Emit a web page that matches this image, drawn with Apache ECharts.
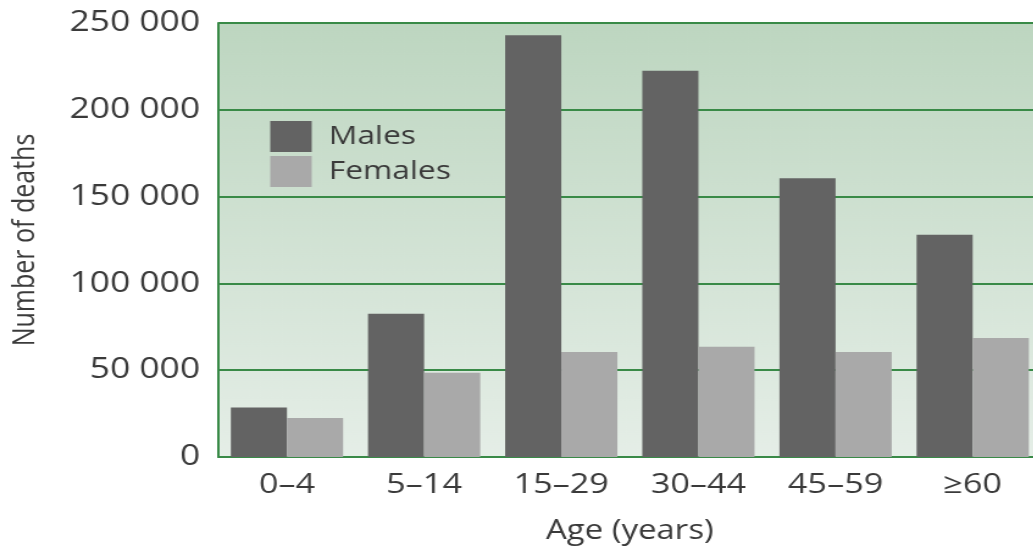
<!DOCTYPE html>
<html>
<head>
<meta charset="utf-8">
<script src="https://cdn.jsdelivr.net/npm/echarts@6/dist/echarts.min.js"></script>
<style>
  html, body { margin: 0; padding: 0; background: #ffffff; overflow: hidden; }
  /* the figure is laid out at its natural width and widened by 1.22 */
  #chart { width: 860px; height: 550px; transform: scaleX(1.22); transform-origin: 0 0; }
</style>
</head>
<body>
<div id="chart"></div>
<script>
// Deaths by age group and sex
const ageGroups = ['0–4', '5–14', '15–29', '30–44', '45–59', '≥60'];
const males = [28500, 82500, 243000, 222500, 160500, 128000];
const females = [22500, 48500, 60500, 63500, 60500, 68500];
const yTicks = [0, 50000, 100000, 150000, 200000, 250000];

const green = '#398a47';
const textColor = '#3a3a3a';
const font = '"Open Sans", "Noto Sans", sans-serif';

// "250 000" style thousands grouping
function groupThousands(v) {
  return String(v).replace(/\B(?=(\d{3})+(?!\d))/g, ' ');
}

const chart = echarts.init(document.getElementById('chart'), null, { renderer: 'canvas' });
chart.setOption({
  animation: false,
  textStyle: { fontFamily: font },
  grid: {
    left: 178.5, top: 23, width: 675, height: 435,
    show: true,
    borderWidth: 0,
    backgroundColor: new echarts.graphic.LinearGradient(0, 0, 0, 1, [
      { offset: 0, color: '#bdd6c0' },
      { offset: 1, color: '#e5eee7' }
    ])
  },
  legend: {
    orient: 'vertical',
    left: 221.5, top: 121,
    padding: 0,
    itemWidth: 34, itemHeight: 31, itemGap: 4,
    icon: 'rect',
    textStyle: { fontFamily: font, fontSize: 26, color: textColor, padding: [0, 0, 0, 9] },
    data: ['Males', 'Females']
  },
  xAxis: {
    type: 'category',
    data: ageGroups,
    axisLine: { show: true, lineStyle: { color: green, width: 2 } },
    axisTick: { show: false },
    axisLabel: { fontFamily: font, fontSize: 28, color: textColor, margin: 14 },
    name: 'Age (years)',
    nameLocation: 'middle',
    nameGap: 61,
    nameTextStyle: { fontFamily: font, fontSize: 27, color: textColor }
  },
  yAxis: {
    type: 'value',
    min: yTicks[0], max: yTicks[yTicks.length - 1], interval: yTicks[1] - yTicks[0],
    axisLine: { show: true, lineStyle: { color: green, width: 2 } },
    axisTick: { show: false },
    splitLine: { show: true, lineStyle: { color: green, width: 2 } },
    axisLabel: { fontFamily: font, fontSize: 29, color: textColor, margin: 15, formatter: groupThousands },
    name: 'Number of deaths',
    nameLocation: 'middle',
    nameGap: 146,
    nameTextStyle: { fontFamily: font, fontSize: 25, color: textColor }
  },
  series: [
    { name: 'Males', type: 'bar', data: males, barWidth: 46, barGap: '0%', itemStyle: { color: '#636363' } },
    { name: 'Females', type: 'bar', data: females, barWidth: 46, barGap: '0%', itemStyle: { color: '#a9a9a9' } }
  ]
});
</script>
</body>
</html>
